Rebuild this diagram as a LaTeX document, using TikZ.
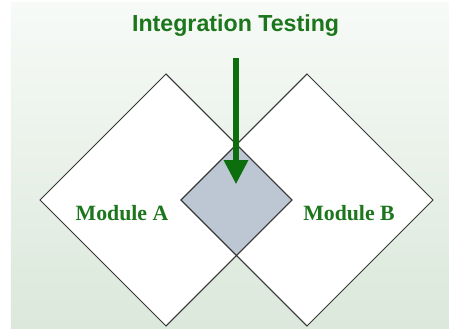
\documentclass[tikz,border=0pt]{standalone}
\usepackage{fontspec}
\setmainfont{Liberation Serif}
\newfontfamily\headfont{Liberation Sans}
\usepackage{tikz}
\usetikzlibrary{arrows.meta,shapes.geometric,positioning}
\usepackage{xcolor}
\definecolor{itgreen}{RGB}{28,118,28}
\definecolor{itarrow}{RGB}{12,110,12}
\definecolor{itgray}{RGB}{189,199,211}
\definecolor{itedge}{RGB}{55,55,55}
\definecolor{slidetop}{RGB}{247,250,247}
\definecolor{slidebottom}{RGB}{219,232,219}
\tikzstyle{module} = [diamond, draw=itedge, line width=0.6pt, fill=white, minimum size=6.3cm, inner sep=0pt, outer sep=0pt]
\tikzstyle{modlabel} = [anchor=base, text=itgreen, font=\fontsize{15.5}{18}\selectfont\bfseries]
\tikzstyle{arrow} = [line width=3.8pt, -{Triangle[width=0.58cm,length=0.6cm]}, color=itarrow]

\begin{document}
\begin{tikzpicture}
    % page and slide background
    \useasboundingbox (0,0) rectangle (11.225,8.225);
    \fill[white] (0,0) rectangle (11.225,8.225);
    \shade[top color=slidetop, bottom color=slidebottom] (0.275,0) rectangle (11.225,8.15);

    % the two modules and their overlap
    \node[module] (modA) at (4.15,3.225) {};
    \node[module] (modB) at (7.675,3.225) {};
    \node[module, fill=itgray, minimum size=2.775cm] (overlap) at (5.9125,3.225) {};
    \draw[itedge, line width=0.6pt] (modA.north) -- (modA.east) -- (modA.south);
    \draw[itedge, line width=0.6pt] (modB.north) -- (modB.west) -- (modB.south);

    \node[modlabel] (labA) at (3.05,2.7) {Module A};
    \node[modlabel] (labB) at (8.725,2.7) {Module B};

    % title and arrow into the overlap
    \node[anchor=base, text=itgreen, font=\headfont\fontsize{16.5}{19}\selectfont\bfseries] (title) at (5.89,7.425) {Integration Testing};
    \coordinate (start) at (5.9,6.77);
    \coordinate (hit) at (5.9,3.62);
    \draw[arrow] (start) -- (hit);
\end{tikzpicture}
\end{document}
